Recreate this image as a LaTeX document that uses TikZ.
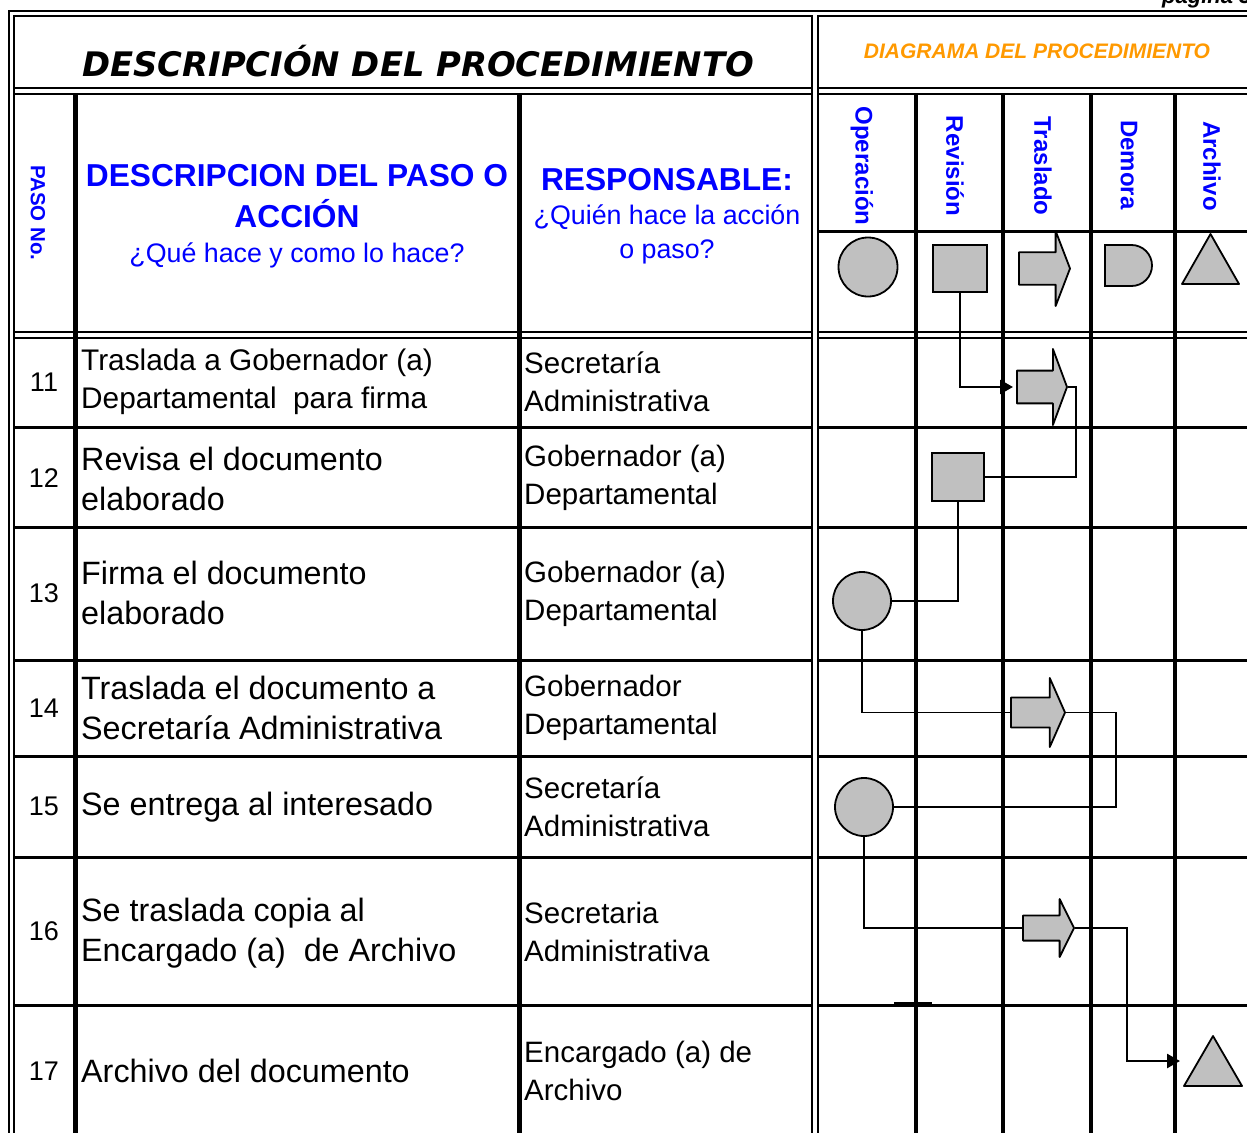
\documentclass[tikz,border=0pt]{standalone}
\usepackage{fontspec}
\setmainfont{Liberation Sans}
\newfontfamily\titulofont{DejaVu Sans}
\usetikzlibrary{calc,arrows.meta,shapes.misc}
\definecolor{azul}{RGB}{0,0,255}
\definecolor{naranja}{RGB}{255,153,0}
\definecolor{gris}{RGB}{192,192,192}
\def\letra#1#2{\fontsize{#1pt}{#2pt}\selectfont}
\tikzset{
	marco/.style={line width=2.5pt},
	columna/.style={line width=4.5pt},
	fila/.style={line width=3pt},
	celda/.style={anchor=west, align=left, inner sep=0pt, font=\letra{32.3}{40}},
	num/.style={inner sep=0pt, font=\letra{27}{30}},
	cabeza/.style={text=azul, align=center, inner sep=0pt},
	etiqueta/.style={text=azul, rotate=-90, inner sep=0pt, font=\bfseries\letra{24}{28}},
	simbolo/.style={draw=black, line width=1.8pt, fill=gris, inner sep=0pt, outer sep=0pt},
	operacion/.style={simbolo, circle, minimum size=58pt},
	revision/.style={simbolo, rectangle},
	demora/.style={simbolo, rounded rectangle, rounded rectangle west arc=none},
	traslado/.style={rectangle, inner sep=0pt, outer sep=0pt, path picture={
		\draw[line width=1.8pt, fill=gris, line join=round]
			let \p1=(path picture bounding box.south west), \p2=(path picture bounding box.north east) in
			(\x1+1pt,{(\y1+\y2)/2-0.21*(\y2-\y1)}) -- ({\x1+0.71*(\x2-\x1)},{(\y1+\y2)/2-0.21*(\y2-\y1)})
			-- ({\x1+0.71*(\x2-\x1)},\y1+1pt) -- (\x2-1pt,{(\y1+\y2)/2}) -- ({\x1+0.71*(\x2-\x1)},\y2-1pt)
			-- ({\x1+0.71*(\x2-\x1)},{(\y1+\y2)/2+0.21*(\y2-\y1)}) -- (\x1+1pt,{(\y1+\y2)/2+0.21*(\y2-\y1)}) -- cycle;
	}},
	archivo/.style={rectangle, inner sep=0pt, outer sep=0pt, path picture={
		\draw[line width=1.8pt, fill=gris, line join=round]
			let \p1=(path picture bounding box.south west), \p2=(path picture bounding box.north east) in
			(\x1+1pt,\y1+1pt) -- (\x2-1pt,\y1+1pt) -- ({(\x1+\x2)/2},\y2-1pt) -- cycle;
	}},
	linea/.style={line width=1.6pt},
	flecha/.style={line width=2.6pt, -{Triangle[length=13pt,width=14pt]}, shorten >=3pt},
}

\begin{document}
\begin{tikzpicture}[x=1pt, y=-1pt]
	\useasboundingbox (0,0) rectangle (1247,1132);
	%%%%% START %%%%%
	% marco doble
	\draw[marco] (9,1140) -- (9,11) -- (1260,11);
	\draw[marco] (14,1140) -- (14,16) -- (812,16) -- (812,1140);
	\draw[marco] (1260,16) -- (818,16) -- (818,1140);
	\draw[marco] (14,88) -- (812,88);
	\draw[marco] (14,94) -- (812,94);
	\draw[marco] (818,88) -- (1260,88);
	\draw[marco] (818,94) -- (1260,94);
	\draw[marco] (14,332) -- (812,332);
	\draw[marco] (14,338) -- (812,338);
	\draw[marco] (818,332) -- (1260,332);
	\draw[marco] (818,338) -- (1260,338);
	
	% columnas
	\draw[line width=5pt] (75,94) -- (75,1140);
	\draw[line width=5pt] (519,94) -- (519,1140);
	\draw[columna] (916,94) -- (916,1140);
	\draw[columna] (1003,94) -- (1003,1140);
	\draw[columna] (1091,94) -- (1091,1140);
	\draw[columna] (1175,94) -- (1175,1140);
	\draw[fila] (818,231) -- (1260,231);
	
	% filas
	\draw[fila] (14,427) -- (812,427);  \draw[fila] (818,427) -- (1260,427);
	\draw[fila] (14,527) -- (812,527);  \draw[fila] (818,527) -- (1260,527);
	\draw[fila] (14,660) -- (812,660);  \draw[fila] (818,660) -- (1260,660);
	\draw[fila] (14,756) -- (812,756);  \draw[fila] (818,756) -- (1260,756);
	\draw[fila] (14,857) -- (812,857);  \draw[fila] (818,857) -- (1260,857);
	\draw[fila] (14,1005) -- (812,1005);  \draw[fila] (818,1005) -- (1260,1005);
	\draw[line width=2pt] (894,1003) -- (932,1003);
	
	% titulos
	\node[anchor=base west, inner sep=0pt, font=\bfseries\itshape\letra{22}{24}] (pagina) at (1162,4) {página 3};
	\node[anchor=base, inner sep=0pt, font=\titulofont\bfseries\itshape\letra{33.8}{38}] (titulo) at (418,77) {DESCRIPCIÓN DEL PROCEDIMIENTO};
	\node[inner sep=0pt, text=naranja, font=\bfseries\itshape\letra{21}{24}] (diagrama) at (1037,51) {DIAGRAMA DEL PROCEDIMIENTO};
	
	% encabezado
	\node[cabeza, rotate=-90, font=\bfseries\letra{20.5}{24}] (pasono) at (38,213) {PASO No.};
	\node[cabeza, font=\bfseries\letra{31.7}{41}] (desccab) at (297,196) {DESCRIPCION DEL PASO O\\ACCIÓN};
	\node[cabeza, font=\letra{26.8}{34}] (descsub) at (297,255) {¿Qué hace y como lo hace?};
	\node[cabeza, font=\bfseries\letra{31.7}{41}] (respcab) at (667,180) {RESPONSABLE:};
	\node[cabeza, font=\letra{26.8}{34}] (respsub) at (667,234) {¿Quién hace la acción\\o paso?};
	\node[etiqueta] (lblop) at (862,166) {Operación};
	\node[etiqueta] (lblrv) at (955,166) {Revisión};
	\node[etiqueta] (lbltr) at (1043,166) {Traslado};
	\node[etiqueta] (lbldm) at (1129,165) {Demora};
	\node[etiqueta] (lblar) at (1212,166) {Archivo};
	
	% simbolos del encabezado
	\node[operacion, minimum size=59pt] (op0) at (868,267) {};
	\node[revision, minimum width=54pt, minimum height=47pt] (rv0) at (960,268.5) {};
	\node[traslado, minimum width=53pt, minimum height=77pt] (tr0) at (1044.5,268.5) {};
	\node[demora, minimum width=47pt, minimum height=41pt] (dm0) at (1128.5,265.5) {};
	\node[archivo, minimum width=59pt, minimum height=52pt] (ar0) at (1210.5,259) {};
	
	% pasos
	\node[num] (paso11) at (44,382) {11};
	\node[celda, font=\letra{29.8}{37.5}] (desc11) at (81,382) {Traslada a Gobernador (a)\\Departamental\ \ para firma};
	\node[celda, font=\letra{29.5}{37.5}] (resp11) at (524,382) {Secretaría\\Administrativa};
	\node[num] (paso12) at (44,478) {12};
	\node[celda] (desc12) at (81,479) {Revisa el documento\\elaborado};
	\node[celda, font=\letra{29.5}{37.5}] (resp12) at (524,478) {Gobernador (a)\\Departamental};
	\node[num] (paso13) at (44,593) {13};
	\node[celda] (desc13) at (81,593) {Firma el documento\\elaborado};
	\node[celda, font=\letra{29.5}{38}] (resp13) at (524,594) {Gobernador (a)\\Departamental};
	\node[num] (paso14) at (44,708) {14};
	\node[celda] (desc14) at (81,708) {Traslada el documento a\\Secretaría Administrativa};
	\node[celda, font=\letra{29.5}{37.5}] (resp14) at (524,708) {Gobernador\\Departamental};
	\node[num] (paso15) at (44,806) {15};
	\node[celda] (desc15) at (81,807) {Se entrega al interesado};
	\node[celda, font=\letra{29.5}{37.5}] (resp15) at (524,807) {Secretaría\\Administrativa};
	\node[num] (paso16) at (44,931) {16};
	\node[celda] (desc16) at (81,933) {Se traslada copia al\\Encargado (a)\ \ de Archivo};
	\node[celda, font=\letra{29.5}{38}] (resp16) at (524,932) {Secretaria\\Administrativa};
	\node[num] (paso17) at (44,1071) {17};
	\node[celda] (desc17) at (81,1071) {Archivo del documento};
	\node[celda, font=\letra{29.5}{37.5}] (resp17) at (524,1071) {Encargado (a) de\\Archivo};
	
	% diagrama
	\node[traslado, minimum width=52pt, minimum height=78pt] (tr11) at (1042,387) {};
	\node[revision, minimum width=52pt, minimum height=48pt] (rv12) at (958,477) {};
	\node[operacion] (op13) at (862,601) {};
	\node[traslado, minimum width=56pt, minimum height=71pt] (tr14) at (1038,712.5) {};
	\node[operacion] (op15) at (864,807) {};
	\node[traslado, minimum width=53pt, minimum height=60pt] (tr16) at (1048.5,928) {};
	\node[archivo, minimum width=60pt, minimum height=52pt] (ar17) at (1213,1061) {};
	
	\draw[flecha] (rv0.south) |- (tr11.west);
	\draw[linea] (tr11.east) -- ++(8,0) |- (rv12.east);
	\draw[linea] (rv12.south) |- (op13.east);
	\draw[linea] (op13.south) |- (tr14.west);
	\draw[linea] (tr14.east) -- ++(50,0) |- (op15.east);
	\draw[linea] (op15.south) |- (tr16.west);
	\draw[flecha] (tr16.east) -- ++(52,0) |- (ar17.west);
	%%%%% END %%%%%
\end{tikzpicture}
\end{document}
